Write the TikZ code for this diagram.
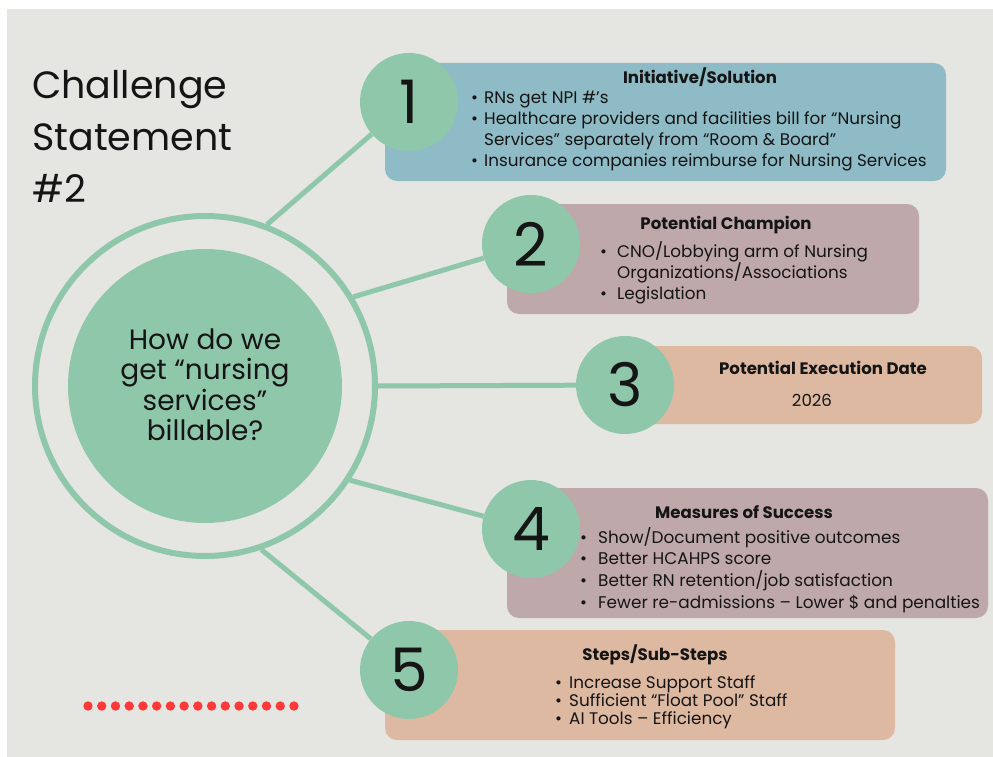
\documentclass[tikz,border=0pt]{standalone}
\usepackage{fontspec}
\setmainfont{Poppins}

\definecolor{paper}{HTML}{E5E5E1}
\definecolor{mint}{HTML}{8FC7AB}
\definecolor{cardblue}{HTML}{8EBBC6}
\definecolor{cardmauve}{HTML}{BFA8A9}
\definecolor{cardpeach}{HTML}{DEB9A2}
\definecolor{dotred}{HTML}{FF3838}
\definecolor{ink}{HTML}{151515}

\tikzset{
  disc/.style={circle, fill=mint, inner sep=0pt, minimum size=98pt, text=ink,
    font=\fontsize{60}{60}\selectfont},
  card/.style={rectangle, rounded corners=12pt, inner sep=0pt},
  cardhead/.style={anchor=base, inner sep=0pt, text=ink, font=\fontsize{16.6}{20}\selectfont\bfseries},
  cardtext/.style={anchor=north west, align=left, inner sep=0pt, text=ink,
    font=\fontsize{16.8}{21}\selectfont},
  spoke/.style={draw=mint, line width=5pt},
}
% bullet with the hanging indent of the list
\newcommand\itm[1][13pt]{\makebox[#1][l]{\textbullet}}

\begin{document}
\begin{tikzpicture}[x=1pt,y=-1pt]
\useasboundingbox (0,0) rectangle (993,757);
\fill[paper] (7,9) rectangle (993,757);

% the five cards
\node[card, fill=cardblue, minimum width=561pt, minimum height=118pt] (b1) at (665.5,122) {};
\node[card, fill=cardmauve, minimum width=412pt, minimum height=110pt] (b2) at (713,259) {};
\node[card, fill=cardpeach, minimum width=382pt, minimum height=78pt] (b3) at (791,385) {};
\node[card, fill=cardmauve, minimum width=481pt, minimum height=130pt] (b4) at (747.5,553) {};
\node[card, fill=cardpeach, minimum width=510pt, minimum height=110pt] (b5) at (640,685) {};

% numbered discs
\node[disc] (c1) at (409,102) {1};
\node[disc] (c2) at (531,244) {2};
\node[disc] (c3) at (625,385) {3};
\node[disc] (c4) at (531,529) {4};
\node[disc] (c5) at (409,670) {5};

% hub
\node[circle, draw=mint, line width=6pt, minimum size=340pt, inner sep=0pt] (ring) at (205,386) {};
\node[circle, fill=mint, minimum size=274pt, inner sep=0pt] (hub) at (205,386) {};
\node[align=center, text=ink, font=\fontsize{28}{30.5}\selectfont] (question) at (205,385)
  {How do we\\get “nursing\\services”\\billable?};

\path[spoke] (ring.69) -- (c1);
\path[spoke] (ring.31) -- (c2);
\path[spoke] (ring.0) -- (c3);
\path[spoke] (ring.-33) -- (c4);
\path[spoke] (ring.-71) -- (c5);

\node[anchor=north west, align=left, inner sep=0pt, text=ink,
  font=\fontsize{38}{52}\selectfont] (title) at (32,70) {Challenge\\Statement\\\#2};

% card texts
\node[cardhead] (h1) at (700,84) {Initiative/Solution};
\node[cardtext] (t1) at (471,91) {\itm RNs get NPI \#’s\\
  \itm Healthcare providers and facilities bill for “Nursing\\
  \hspace*{13pt}Services” separately from “Room \& Board”\\
  \itm Insurance companies reimburse for Nursing Services};

\node[cardhead] (h2) at (726,229) {Potential Champion};
\node[cardtext] (t2) at (600,241) {\itm[17pt]CNO/Lobbying arm of Nursing\\
  \hspace*{17pt}Organizations/Associations\\
  \itm[17pt]Legislation};

\node[cardhead] (h3) at (823,374) {Potential Execution Date};
\node[cardhead, font=\fontsize{16.6}{20}\selectfont] (d3) at (812,406) {2026};

\node[cardhead] (h4) at (744,518) {Measures of Success};
\node[cardtext, font=\fontsize{16.9}{21.7}\selectfont] (t4) at (580,527) {\itm[18pt]Show/Document positive outcomes\\
  \itm[18pt]Better HCAHPS score\\
  \itm[18pt]Better RN retention/job satisfaction\\
  \itm[18pt]Fewer re-admissions – Lower \$ and penalties};

\node[cardhead] (h5) at (655,660) {Steps/Sub-Steps};
\node[cardtext, font=\fontsize{16.8}{18}\selectfont] (t5) at (555,675) {\itm[14pt]Increase Support Staff\\
  \itm[14pt]Sufficient “Float Pool” Staff\\
  \itm[14pt]AI Tools – Efficiency};

% red dotted rule
\foreach \i in {0,...,15}
  \fill[dotred] (88+\i*13.73,706) circle (4.7);
\end{tikzpicture}
\end{document}
